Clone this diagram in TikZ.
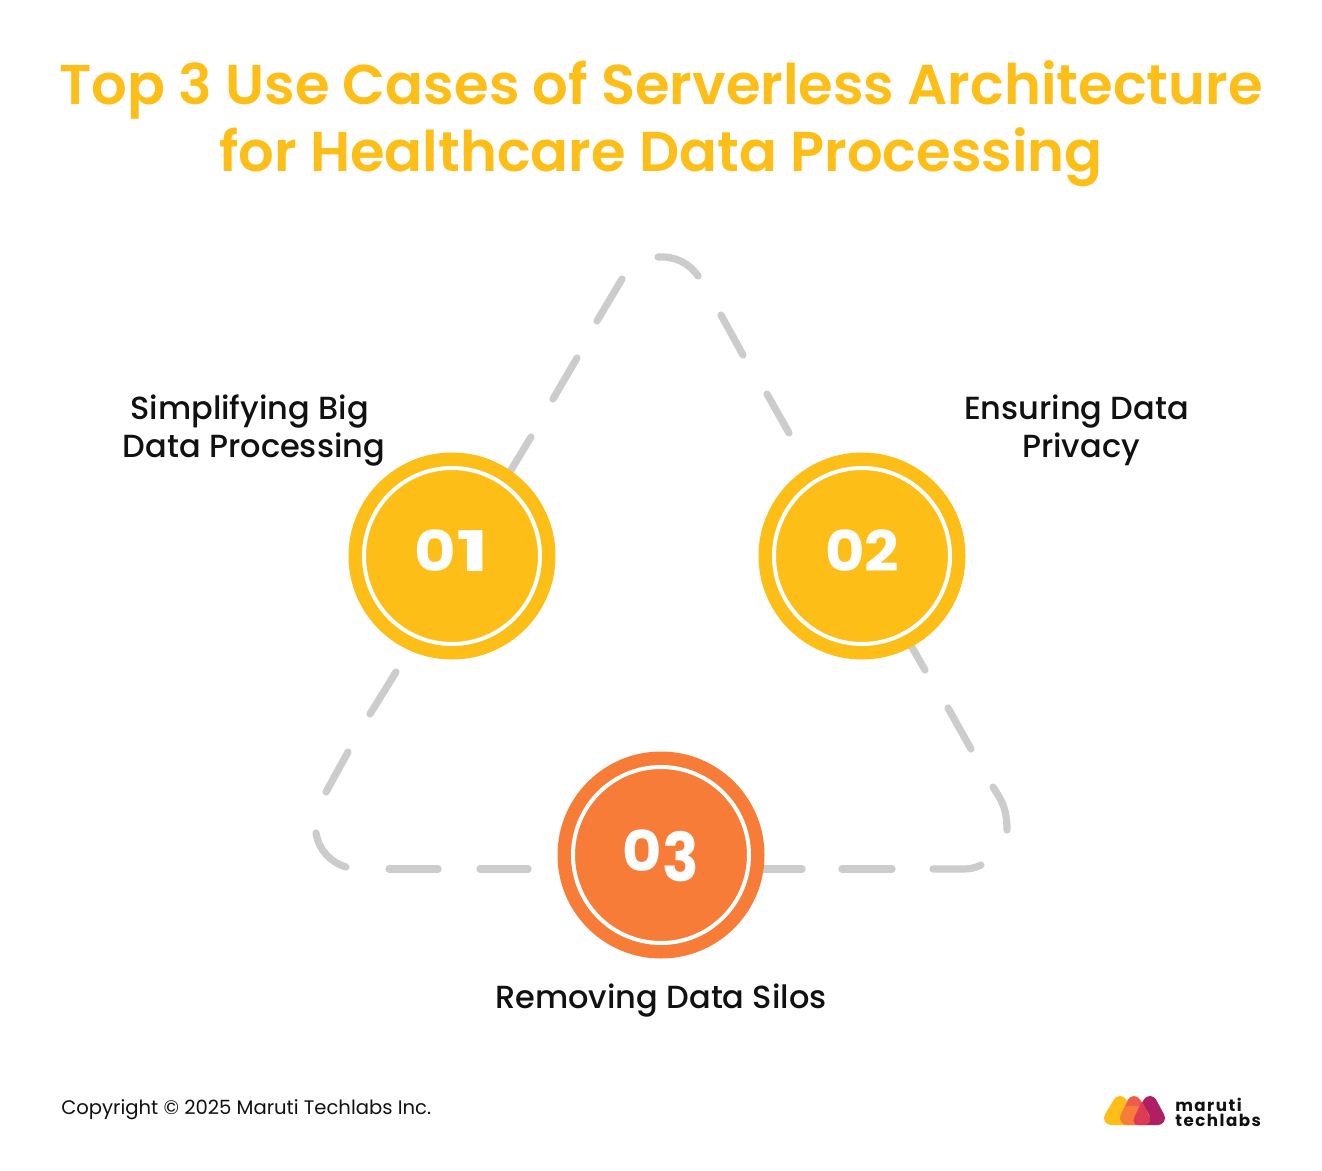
\documentclass[tikz,border=0pt]{standalone}
\usepackage{fontspec}
\setmainfont{Poppins}
\newfontfamily\popmed{Poppins Medium}
\newfontfamily\popsemi{Poppins SemiBold}
\newfontfamily\popbold{Poppins}[UprightFont=* Bold]
\definecolor{yel}{HTML}{FDBE18}
\definecolor{org}{HTML}{F67C38}
\definecolor{dash}{HTML}{CCCCCC}
\definecolor{ink}{HTML}{111111}
\definecolor{mag}{HTML}{B01E63}
\definecolor{rd}{HTML}{DC3A55}
\definecolor{pnk}{HTML}{EC5C50}
\newcommand{\digz}{\scalebox{1.08}[1]{0}}
\newcommand{\digzw}{\scalebox{1.14}[1]{0}}
\newcommand{\digo}{\scalebox{1.55}[1]{1}}
\newcommand{\digt}{\scalebox{1.08}[1]{2}}
\newcommand{\digh}{\raisebox{-7.5pt}{\scalebox{1.08}[1.2]{3}}}
\tikzset{
  dashseg/.style={draw=dash,line width=5.4pt,line cap=round},
  badge/.style={circle,minimum size=155.25pt,inner sep=0pt},
  ring/.style={draw=white,line width=3pt},
  numeral/.style={text=white,font=\popbold\fontsize{42}{42}\selectfont,anchor=base,inner sep=0pt},
  caption/.style={text=ink,font=\popmed\fontsize{24}{28.5}\selectfont,align=center,inner sep=0pt},
  blob/.style={line width=10.5pt,line join=round},
}
\begin{document}
\begin{tikzpicture}[x=0.75pt,y=-0.75pt]
\useasboundingbox[fill=white] (0,0) rectangle (1322,1171);
% dashed rounded triangle
\draw[dashseg] (658,257) .. controls (675,256) and (689,263) .. (698,276);
\draw[dashseg] (721,315) -- (743,355);
\draw[dashseg] (767,394) -- (789,433);
\draw[dashseg] (622,279) -- (597,321);
\draw[dashseg] (577,358) -- (553,399);
\draw[dashseg] (531,437) -- (505,480);
\draw[dashseg] (905,635) -- (925,670);
\draw[dashseg] (948,708) -- (971,749);
\draw[dashseg] (993,787) -- (998,795) .. controls (1005,806) and (1007,817) .. (1007,830);
\draw[dashseg] (981,865) .. controls (975,868) and (970,869) .. (963,869) -- (933,869);
\draw[dashseg] (892,869) -- (842,869);
\draw[dashseg] (802,869) -- (750,869);
\draw[dashseg] (396,672) -- (370,714);
\draw[dashseg] (348,752) -- (326,792);
\draw[dashseg] (316,833) .. controls (319,850) and (330,862) .. (346,867);
\draw[dashseg] (389,869) -- (438,869);
\draw[dashseg] (480,869) -- (528,869);
% badges
\node[badge,fill=yel] (b1) at (452,556) {};
\node[badge,fill=yel] (b2) at (862,556) {};
\node[badge,fill=org] (b3) at (661,855) {};
\draw[ring] (b1.center) circle[radius=88];
\draw[ring] (b2.center) circle[radius=88];
\draw[ring] (b3.center) circle[radius=88];
\node[numeral] (n1) at (452,571.5) {\digzw\digo};
\node[numeral] (n2) at (862,571.5) {\digz\digt};
\node[numeral] (n3) at (661,871) {\digz\digh};
% title
\node[text=yel,font=\popsemi\fontsize{42}{50.2}\selectfont,align=center,inner sep=0pt] (title) at (661,124) {Top 3 Use Cases of Serverless Architecture\\for Healthcare Data Processing};
% captions
\node[caption] (c1) at (254,430) {Simplifying Big\hspace*{6.75pt}\\Data Processing};
\node[caption] (c2) at (1081,430) {Ensuring Data\hspace*{6.75pt}\\Privacy};
\node[caption] (c3) at (661,1001) {Removing Data Silos};
% footer
\node[text=ink,anchor=west,inner sep=0pt,font=\fontsize{14.7}{18}\selectfont] (copy) at (61,1110) {Copyright © 2025 Maruti Techlabs Inc.};
% logo
\filldraw[blob,draw=yel,fill=yel] (1120,1103) -- (1111,1118) -- (1129,1118) -- cycle;
\filldraw[blob,draw=mag,fill=mag] (1150,1103) -- (1141,1118) -- (1158,1118) -- cycle;
\filldraw[blob,draw=org,fill=org] (1134,1103) -- (1127,1118) -- (1143,1118) -- cycle;
\fill[pnk] (1127.5,1102) .. controls (1130,1094.5) and (1138,1094.5) .. (1140.5,1102) -- (1142,1106) -- (1126,1106) -- cycle;
\fill[rd] (1142,1101) -- (1150,1118) .. controls (1151,1122) and (1148,1125) .. (1144,1125) -- (1138,1125) .. controls (1134,1125) and (1133,1121) .. (1134,1118) -- cycle;
\node[text=ink,anchor=west,inner sep=0pt,font=\popbold\fontsize{12.5}{10.8}\selectfont,align=left] (logo) at (1175,1112.5) {\addfontfeature{LetterSpace=9}maruti\\\addfontfeature{LetterSpace=9}techlabs};
\end{tikzpicture}
\end{document}
